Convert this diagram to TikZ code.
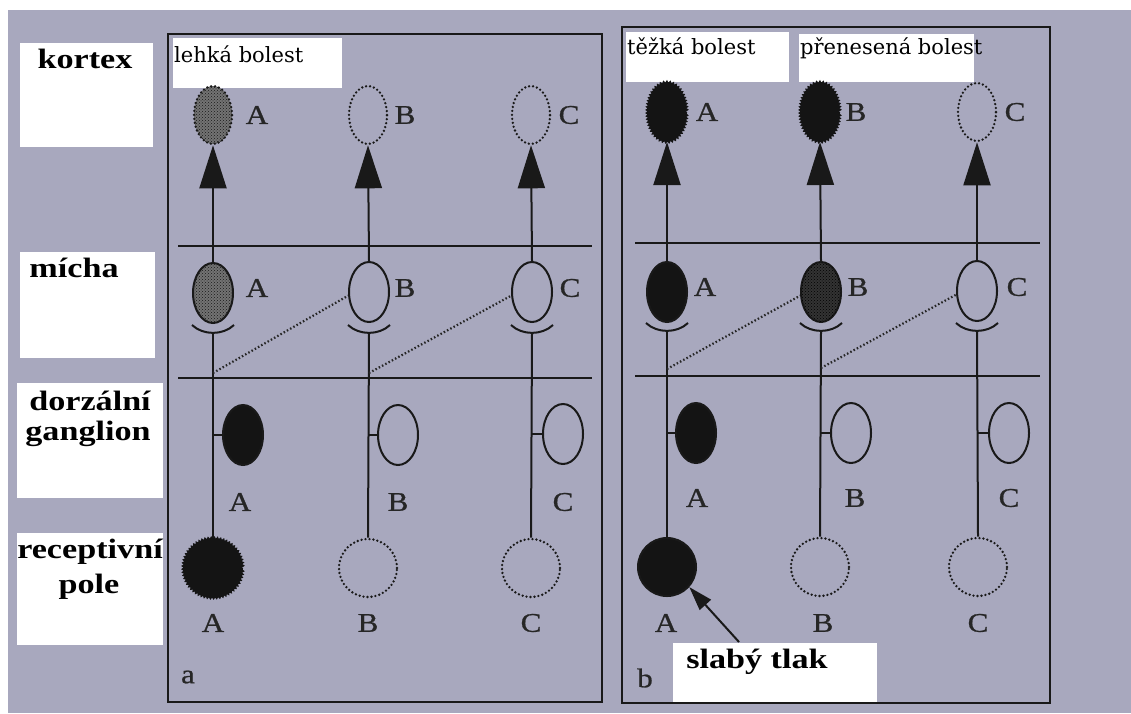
\documentclass[tikz,border=0pt]{standalone}
\usepackage{fontspec}
\usetikzlibrary{shapes.geometric,arrows.meta,decorations.pathmorphing,patterns}
\newfontfamily\labfont[FakeStretch=1.22]{Liberation Serif}
\newfontfamily\letfont[FakeStretch=1.15,FakeBold=0.8]{Liberation Serif}
\newfontfamily\boxfont{DejaVu Serif}
\definecolor{bg}{RGB}{168,168,190}
\tikzset{
  ell/.style={ellipse, minimum width=40pt, minimum height=60pt, inner sep=0pt, draw=black!90, line width=2pt},
  kell/.style={ellipse, minimum width=38pt, minimum height=58pt, inner sep=0pt, draw=black!90, line width=2pt},
  fld/.style={circle, minimum size=58pt, inner sep=0pt, draw=black!90, line width=2pt},
  dots/.style={line width=2.6pt, dash pattern=on 0pt off 4pt, line cap=round},
  jag/.style={fill=black!92, draw=black!92, decorate, decoration={zigzag, segment length=3pt, amplitude=1.1pt}},
  speck/.style={fill=black!55, postaction={pattern=crosshatch dots, pattern color=black!90}},
  solidblack/.style={fill=black!92},
  wire/.style={line width=2pt, draw=black!90},
  frame/.style={line width=2.2pt, draw=black!90},
  uparrow/.style={wire, -{Triangle[length=43pt, width=27pt]}},
  dotline/.style={line width=2.2pt, draw=black!85, dash pattern=on 1.5pt off 2.2pt},
  letter/.style={font=\letfont\fontsize{27}{30}\selectfont, text=black!85, inner sep=0pt},
  lab/.style={font=\labfont\bfseries\fontsize{28}{30}\selectfont, inner sep=0pt, anchor=base},
  btxt/.style={font=\boxfont\fontsize{21}{24}\selectfont, inner sep=0pt, anchor=base west}
}
\begin{document}
\begin{tikzpicture}[x=1pt,y=-1pt]
\useasboundingbox (0,0) rectangle (1131,713);
\fill[white] (0,0) rectangle (1131,713);
\fill[bg] (8,10) rectangle (1131,713);

% left labels
\fill[white] (20,43) rectangle (153,147);
\fill[white] (20,252) rectangle (155,358);
\fill[white] (17,383) rectangle (163,498);
\fill[white] (17,533) rectangle (163,645);
\node[lab] (lk) at (85,68) {kortex};
\node[lab] (lm) at (74,277) {mícha};
\node[lab] (ld1) at (90,410) {dorzální};
\node[lab] (ld2) at (88,440) {ganglion};
\node[lab] (lr1) at (90,558) {receptivní};
\node[lab] (lr2) at (89,593) {pole};

% frames
\draw[frame] (168,34) rectangle (602,702);
\draw[frame] (622,27) rectangle (1050,703);
\draw[wire] (178,246) -- (592,246);
\draw[wire] (178,378) -- (592,378);
\draw[wire] (635,243) -- (1040,243);
\draw[wire] (635,376) -- (1040,376);

% ===== panel a =====
\fill[white] (173,38) rectangle (342,88);
\node[btxt] (tla) at (174,62) {lehká bolest};
% kortex
\node[kell, speck, dots] (aAk) at (213,115) {};
\node[kell, dots] (aBk) at (368,115) {};
\node[kell, dots] (aCk) at (531,115) {};
% micha
\node[ell, speck] (aAm) at (213,293) {};
\node[ell] (aBm) at (369,292) {};
\node[ell] (aCm) at (532,292) {};
% ganglion
\node[ell, solidblack] (aAg) at (243,435) {};
\node[ell] (aBg) at (398,435) {};
\node[ell] (aCg) at (563,434) {};
% fields
\node[fld, jag] (aAf) at (213,568) {};
\node[fld, dots] (aBf) at (368,568) {};
\node[fld, dots] (aCf) at (531,568) {};
% arrows
\draw[uparrow] (aAm.north) -- (aAk.south);
\draw[uparrow] (aBm.north) -- (aBk.south);
\draw[uparrow] (aCm.north) -- (aCk.south);
% cups and lower wires
\foreach \n/\x in {aA/213, aB/369, aC/532}{
  \coordinate (\n cup) at (\x,333);
  \draw[wire] (\x-21,325) .. controls (\x-10,335.5) and (\x+10,335.5) .. (\x+21,325);
}
\draw[wire] (aAcup) -- (aAf.north);
\draw[wire] (aBcup) -- (aBf.north);
\draw[wire] (aCcup) -- (aCf.north);
\coordinate (aAs) at (213,435);
\coordinate (aBs) at (369,435);
\coordinate (aCs) at (532,434);
\draw[wire] (aAs) -- (aAg.west);
\draw[wire] (aBs) -- (aBg.west);
\draw[wire] (aCs) -- (aCg.west);
\coordinate (aAd) at (213,373);
\coordinate (aBd) at (369,373);
\draw[dotline] (aAd) -- (aBm.190);
\draw[dotline] (aBd) -- (aCm.190);
% letters
\node[letter] (aAkl) at (257,115) {A};
\node[letter] (aBkl) at (405,115) {B};
\node[letter] (aCkl) at (569,115) {C};
\node[letter] (aAml) at (257,288) {A};
\node[letter] (aBml) at (405,288) {B};
\node[letter] (aCml) at (570,288) {C};
\node[letter] (aAgl) at (240,502) {A};
\node[letter] (aBgl) at (398,502) {B};
\node[letter] (aCgl) at (563,502) {C};
\node[letter] (aAfl) at (213,623) {A};
\node[letter] (aBfl) at (368,623) {B};
\node[letter] (aCfl) at (531,623) {C};
\node[letter] (pa) at (188,677) {a};

% ===== panel b =====
\fill[white] (626,32) rectangle (789,82);
\fill[white] (799,34) rectangle (974,82);
\node[btxt] (ttb) at (627,54) {těžká bolest};
\node[btxt] (tpb) at (800,54) {přenesená bolest};
% kortex
\node[kell, jag] (bAk) at (667,112) {};
\node[kell, jag] (bBk) at (820,112) {};
\node[kell, dots] (bCk) at (977,112) {};
% micha
\node[ell, solidblack] (bAm) at (667,292) {};
\node[ell, fill=black!80, postaction={pattern=crosshatch dots, pattern color=black}] (bBm) at (821,292) {};
\node[ell] (bCm) at (977,291) {};
% ganglion
\node[ell, solidblack] (bAg) at (696,433) {};
\node[ell] (bBg) at (851,433) {};
\node[ell] (bCg) at (1009,433) {};
% fields
\node[fld, solidblack] (bAf) at (667,567) {};
\node[fld, dots] (bBf) at (820,567) {};
\node[fld, dots] (bCf) at (978,567) {};
% arrows
\draw[uparrow] (bAm.north) -- (bAk.south);
\draw[uparrow] (bBm.north) -- (bBk.south);
\draw[uparrow] (bCm.north) -- (bCk.south);
\foreach \n/\x in {bA/667, bB/821, bC/977}{
  \coordinate (\n cup) at (\x,331);
  \draw[wire] (\x-21,323) .. controls (\x-10,333.5) and (\x+10,333.5) .. (\x+21,323);
}
\draw[wire] (bAcup) -- (bAf.north);
\draw[wire] (bBcup) -- (bBf.north);
\draw[wire] (bCcup) -- (bCf.north);
\coordinate (bAs) at (667,433);
\coordinate (bBs) at (821,433);
\coordinate (bCs) at (977,433);
\draw[wire] (bAs) -- (bAg.west);
\draw[wire] (bBs) -- (bBg.west);
\draw[wire] (bCs) -- (bCg.west);
\coordinate (bAd) at (667,369);
\coordinate (bBd) at (821,368);
\draw[dotline] (bAd) -- (bBm.190);
\draw[dotline] (bBd) -- (bCm.190);
% letters
\node[letter] (bAkl) at (707,112) {A};
\node[letter] (bBkl) at (856,112) {B};
\node[letter] (bCkl) at (1015,112) {C};
\node[letter] (bAml) at (705,287) {A};
\node[letter] (bBml) at (858,287) {B};
\node[letter] (bCml) at (1017,287) {C};
\node[letter] (bAgl) at (697,498) {A};
\node[letter] (bBgl) at (855,498) {B};
\node[letter] (bCgl) at (1009,498) {C};
\node[letter] (bAfl) at (666,623) {A};
\node[letter] (bBfl) at (823,623) {B};
\node[letter] (bCfl) at (978,623) {C};
\node[letter] (pb) at (645,678) {b};
% slaby tlak
\fill[white] (673,643) rectangle (877,702);
\node[lab] (slt) at (757,668) {slabý tlak};
\coordinate (sltop) at (739,642);
\draw[wire, -{Triangle[length=24pt, width=15pt]}] (sltop) -- (bAf.318);
\end{tikzpicture}
\end{document}
